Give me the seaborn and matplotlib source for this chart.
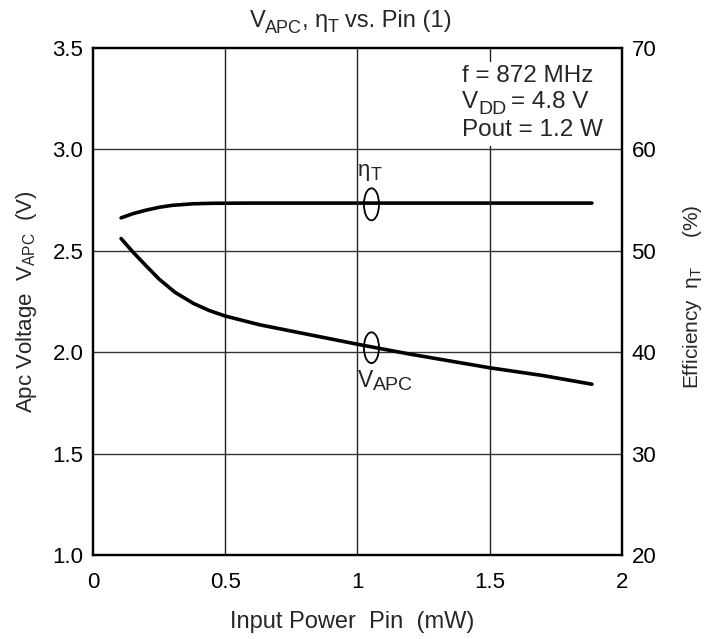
import matplotlib
matplotlib.use("Agg")
import matplotlib.pyplot as plt
import seaborn as sns
import pandas as pd
from matplotlib.patches import Ellipse, Rectangle

# Data
pin_vapc = [0.106, 0.15, 0.19, 0.25, 0.31, 0.38, 0.44, 0.5, 0.63, 0.9, 1.0, 1.2, 1.5, 1.7, 1.887]
vapc = [2.56, 2.495, 2.44, 2.36, 2.295, 2.24, 2.205, 2.178, 2.135, 2.065, 2.039, 1.99, 1.923, 1.885, 1.842]
pin_eff = [0.106, 0.15, 0.2, 0.253, 0.3, 0.378, 0.45, 0.6, 1.0, 1.5, 1.887]
eff = [53.24, 53.65, 54.0, 54.3, 54.48, 54.63, 54.68, 54.7, 54.7, 54.7, 54.7]
x_ticks = [0, 0.5, 1, 1.5, 2]
x_labels = ["0", "0.5", "1", "1.5", "2"]
yl_ticks = [1.0, 1.5, 2.0, 2.5, 3.0, 3.5]
yr_ticks = [20, 30, 40, 50, 60, 70]

sns.set_theme(style="white")
plt.rcParams['font.family'] = ['Liberation Sans', 'DejaVu Sans']
plt.rcParams['mathtext.fontset'] = 'custom'
plt.rcParams['mathtext.rm'] = 'Liberation Sans'
plt.rcParams['mathtext.it'] = 'Liberation Sans'
plt.rcParams['mathtext.default'] = 'rm'

fig = plt.figure(figsize=(7.05, 6.39), dpi=100)
ax = fig.add_axes([0.132, 0.1315, 0.750, 0.7935])
renderer = fig.canvas.get_renderer()


def rich(x, y, segs, transform, ha="left", zorder=6):
    """segs: (text, fontsize, dy_px, gap_px)"""
    items = []
    cur = 0.0
    for s, fs, dy, gap in segs:
        cur += gap
        t = ax.annotate(s, xy=(x, y), xycoords=transform, xytext=(cur, dy),
                        textcoords="offset pixels", fontsize=fs, va="baseline",
                        ha="left", annotation_clip=False, zorder=zorder)
        w = t.get_window_extent(renderer).width
        items.append((t, cur, dy))
        cur += w
    if ha == "center":
        for t, off, dy in items:
            t.xyann = (off - cur / 2.0, dy)
    return items


df_v = pd.DataFrame({"pin": pin_vapc, "v": vapc})
df_e = pd.DataFrame({"pin": pin_eff, "e": eff})

ax.set_xlim(0, 2)
ax.set_ylim(1.0, 3.5)
ax.set_xticks(x_ticks)
ax.set_xticklabels(x_labels)
ax.set_yticks(yl_ticks)
ax.set_yticklabels([f"{t:.1f}" for t in yl_ticks])
for xv in x_ticks[1:-1]:
    ax.axvline(xv, color="#222222", lw=1.0, zorder=1)
for yv in yl_ticks[1:-1]:
    ax.axhline(yv, color="#333333", lw=1.0, zorder=1)

sns.lineplot(data=df_v, x="pin", y="v", ax=ax, color="black", lw=2.6, zorder=3)

ax2 = ax.twinx()
ax2.set_ylim(20, 70)
ax2.set_yticks(yr_ticks)
sns.lineplot(data=df_e, x="pin", y="e", ax=ax2, color="black", lw=2.6, zorder=3)

for a in (ax, ax2):
    for s in a.spines.values():
        s.set_color("black")
        s.set_linewidth(1.6)
        s.set_zorder(8)
    a.tick_params(length=0, labelsize=16, colors="black", pad=7)
ax.tick_params(axis="x", pad=12)

ax.set_xlabel("Input Power  Pin  (mW)", fontsize=17)
ax.xaxis.set_label_coords(0.49, -0.11)
ax.set_ylabel(r"Apc Voltage  V$_{APC}$  (V)", fontsize=16)
ax.yaxis.set_label_coords(-0.103, 0.5)
ax2.set_ylabel(r"Efficiency  η$_T$     (%)", fontsize=15)
ax2.yaxis.set_label_coords(1.112, 0.51)

# title
rich(0.497, 1 - 27 / 639, [("V", 17, 0, 0), ("APC", 13, -6, 0), (",", 17, 0, 0),
                          ("η", 17, 0, 6), ("T", 13, -5, 0), ("vs. Pin (1)", 17, 0, 6)],
     fig.transFigure, ha="center")

# annotations
ax.add_patch(Ellipse((1.053, 2.729), 0.057, 0.158, fill=False, lw=1.3, ec="black", zorder=4))
ax.add_patch(Ellipse((1.053, 2.022), 0.057, 0.152, fill=False, lw=1.3, ec="black", zorder=4))
rich(1.002, 2.87, [("η", 16, 0, 0), ("T", 13, -4, 0)], ax.transData, zorder=5)
rich(1.0, 1.83, [("V", 16.5, 0, 0), ("APC", 14, -3, 0)], ax.transData, zorder=5)

# condition box
ax.add_patch(Rectangle((0.684, 0.807), 0.284, 0.165, transform=ax.transAxes,
                       facecolor="white", edgecolor="none", zorder=5))
rich(0.6975, 0.933, [("f = 872 MHz", 17.5, 0, 0)], ax.transAxes)
rich(0.6975, 0.8825, [("V", 17.5, 0, 0), ("DD", 14, -6, 0), ("= 4.8 V", 17.5, 0, 5)], ax.transAxes)
rich(0.6975, 0.8265, [("Pout = 1.2 W", 17.5, 0, 0)], ax.transAxes)

ax.set_zorder(ax2.get_zorder() + 1)
ax.patch.set_visible(False)

fig.savefig("out.png", dpi=100)
